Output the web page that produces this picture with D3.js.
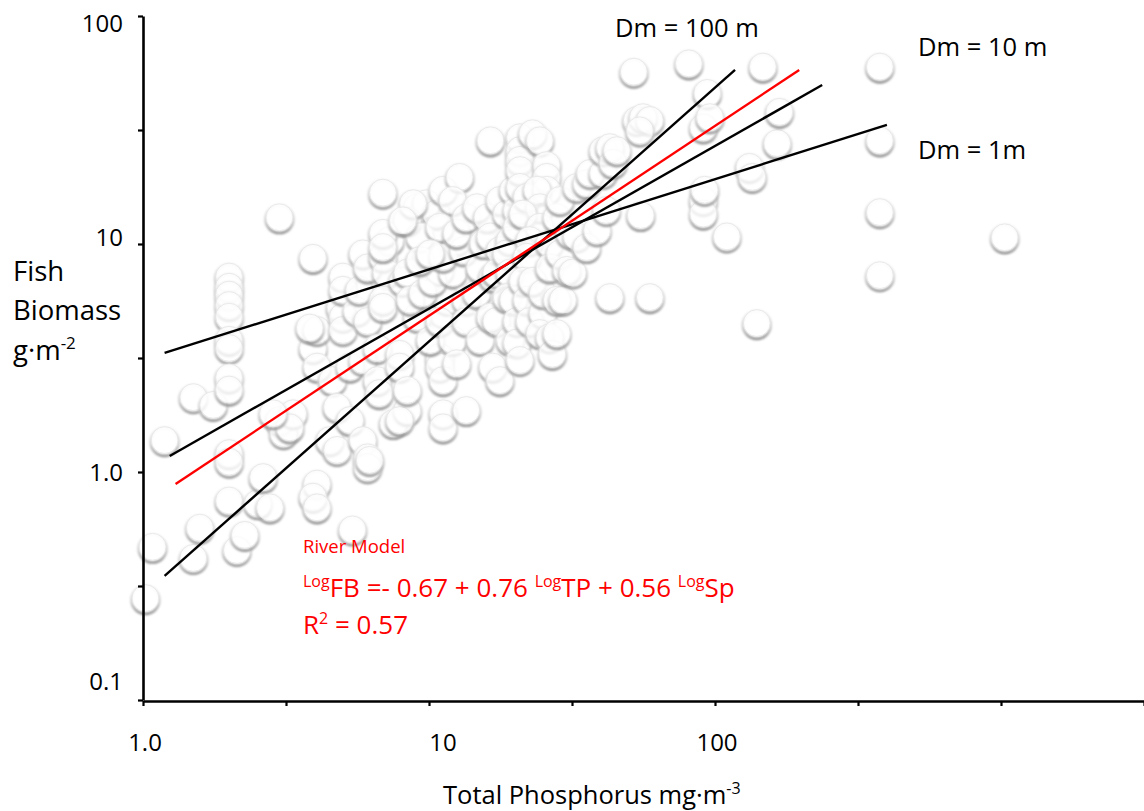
<!DOCTYPE html>
<html>
<head>
<meta charset="utf-8">
<script src="https://cdn.jsdelivr.net/npm/d3@7"></script>
<style>
  body { margin: 0; background: #fff; }
  svg { display: block; }
  text { font-family: "Open Sans", Lato, sans-serif; }
</style>
</head>
<body>
<svg id="chart" width="1144" height="811"></svg>
<script>
// Total phosphorus (mg·m-3) of each river site
const tpValues = [
  1.02, 1.08, 1.19, 1.5, 1.5, 1.58, 1.76, 2.0, 2.0, 2.0, 2.0, 2.0, 2.0, 2.0, 2.0, 2.0, 2.0, 2.0, 2.0,
  2.13, 2.27, 2.52, 2.63, 2.78, 3.0, 3.1, 3.0, 3.35, 3.26, 2.85, 3.93, 4.06, 3.93, 4.06, 3.93, 4.06,
  3.83, 4.06, 4.6, 4.77, 4.5, 4.77, 5.3, 5.3, 5.0, 4.9, 5.0, 5.0, 5.0, 5.4, 5.6, 5.7, 5.87, 6.1,
  5.87, 5.87, 6.1, 6.1, 6.1, 6.6, 6.6, 6.7, 6.2, 6.9, 7.3, 6.9, 7.1, 6.9, 6.9, 7.9, 7.9, 7.5, 8.4,
  7.9, 8.4, 8.1, 9.1, 9.8, 10.6, 11.2, 9.8, 10.9, 11.2, 10.9, 10.9, 11.2, 11.2, 11.2, 13.5, 11.6,
  8.4, 9.3, 8.8, 8.4, 9.1, 8.6, 9.5, 10.3, 9.3, 10.1, 10.9, 12.1, 12.5, 12.1, 12.5, 11.2, 13.2,
  12.8, 12.1, 10.9, 12.5, 13.5, 13.5, 13.5, 14.7, 14.7, 15.1, 15.5, 15.1, 16.4, 16.0, 16.4, 16.7,
  16.4, 16.7, 17.7, 17.7, 17.7, 17.2, 17.2, 18.7, 19.2, 18.7, 19.2, 18.7, 19.2, 19.7, 19.7, 20.3,
  20.3, 20.3, 20.3, 20.8, 20.8, 20.8, 20.8, 20.8, 20.8, 22.0, 23.0, 24.4, 25.8, 25.8, 25.8, 23.9,
  24.4, 21.3, 24.4, 22.5, 22.0, 21.3, 22.0, 22.5, 23.0, 25.0, 25.0, 24.4, 26.4, 27.0, 26.4, 26.4,
  28.0, 28.0, 28.0, 28.7, 28.7, 29.4, 30.3, 31.1, 31.8, 32.9, 32.9, 35.6, 35.6, 36.6, 38.7, 40.6,
  40.6, 42.9, 41.7, 44.0, 45.4, 42.9, 59.2, 52, 53.3, 56, 59.2, 54.6, 81, 94, 91, 96, 91, 91, 55,
  110, 132, 135, 165, 168, 147, 377, 377, 377, 377, 1030, 140, 92, 6.9, 6.9, 8.1, 10.1
];

// Fish biomass (g·m-2) of the same sites, in the same order
const fbValues = [
  0.28, 0.47, 1.38, 2.13, 0.42, 0.57, 1.97, 7.2, 6.5, 6.0, 5.4, 4.8, 3.8, 3.5, 2.6, 2.3, 1.21, 1.11, 0.75,
  0.455, 0.53, 0.73, 0.95, 0.70, 1.69, 1.48, 13.1, 1.81, 1.57, 1.81, 3.5, 4.2, 8.7, 0.89, 0.78, 0.70,
  4.3, 2.9, 2.53, 1.93, 1.38, 1.25, 1.69, 2.9, 7.2, 5.3, 4.8, 6.3, 4.2, 0.56, 5.1, 6.3, 9.1, 7.9,
  3.1, 1.38, 1.16, 1.05, 4.6, 3.5, 2.53, 2.22, 1.13, 16.8, 10.4, 8.8, 7.5, 5.7, 5.3, 3.3, 2.9, 1.64, 1.87,
  1.69, 2.29, 6.9, 14.5, 15.1, 13.6, 17.3, 8.8, 7.7, 5.0, 3.2, 2.9, 2.53, 1.81, 1.57, 1.87, 5.7,
  12.7, 10.8, 15.1, 7.5, 4.8, 5.7, 6.1, 6.9, 8.5, 3.8, 4.6, 3.8, 3.0, 7.5, 10.4, 8.8, 9.4,
  19.7, 15.6, 11.9, 11.2, 13.1, 5.7, 4.6, 6.1, 14.5, 7.9, 10.1, 3.8, 28.5, 13.1, 10.8, 7.2,
  4.8, 2.9, 2.53, 15.6, 9.4, 7.5, 4.6, 13.6, 10.4, 9.1, 7.5, 5.85, 3.8, 5.7, 17.3, 14.1,
  11.9, 4.6, 3.7, 3.1, 29.4, 25.8, 23.4, 21.1, 17.8, 16.1, 30.6, 28.5, 22.2, 19.7, 17.3, 17.3,
  14.5, 13.6, 11.9, 10.4, 8.8, 6.9, 5.7, 4.6, 6.9, 5.0, 6.1, 4.07, 3.9, 3.3, 10.1, 7.9,
  13.1, 5.7, 4.07, 15.6, 9.1, 5.7, 7.7, 11.2, 7.5, 17.8, 10.8, 9.7, 18.5, 20.5, 11.5, 20.5,
  25.8, 26.6, 14.1, 22.7, 25.8, 5.85, 5.85, 57, 35, 36, 35, 31.5, 62, 46, 32.5, 36, 15.6, 13.6, 13.4,
  10.8, 21.8, 19.7, 27.7, 38, 60, 60, 28.5, 13.8, 7.3, 10.7, 4.5, 17.3, 11.2, 9.7, 12.7, 9.1
];

// Fitted lines: endpoints in (TP, FB)
const lineNames = ["Dm = 1m", "Dm = 10 m", "Dm = 100 m", "River Model"];
const lineTP = [[1.19, 399], [1.24, 237], [1.19, 117.5], [1.30, 197]];
const lineFB = [[3.33, 33.3], [1.175, 49.8], [0.35, 58], [0.886, 58]];
const lineColors = ["#000", "#000", "#000", "#ff0000"];

// Axis ticks
const xTickValues = [1, Math.sqrt(10), 10, Math.sqrt(1000), 100, Math.sqrt(1e5), 1000, Math.sqrt(1e7)];
const yTickValues = [0.1, Math.sqrt(0.1), 1, Math.sqrt(10), 10, Math.sqrt(1000), 100];
const xLabelValues = [1, 10, 100];
const xLabelTexts = ["1.0", "10", "100"];
const yLabelValues = [100, 10, 1, 0.1];
const yLabelTexts = ["100", "10", "1.0", "0.1"];

const svg = d3.select("#chart");

const x = d3.scaleLog().domain([1, Math.sqrt(1e7)]).range([143, 1144]);
const y = d3.scaleLog().domain([0.1, 100]).range([700, 16]);

// Bubble look: see-through white disc, soft grey rim that darkens towards the bottom
const defs = svg.append("defs");
const rim = defs.append("linearGradient").attr("id", "rimGrad")
  .attr("x1", 0).attr("y1", 0).attr("x2", 0).attr("y2", 1);
rim.append("stop").attr("offset", "0%").attr("stop-color", "#efefef");
rim.append("stop").attr("offset", "55%").attr("stop-color", "#d2d2d2");
rim.append("stop").attr("offset", "100%").attr("stop-color", "#939393");
defs.append("filter").attr("id", "soft").attr("x", "-30%").attr("y", "-30%").attr("width", "160%").attr("height", "160%")
  .append("feGaussianBlur").attr("stdDeviation", 1.3);
defs.append("filter").attr("id", "soft2").attr("x", "-30%").attr("y", "-30%").attr("width", "160%").attr("height", "160%")
  .append("feGaussianBlur").attr("stdDeviation", 0.7);

const points = tpValues.map((tp, i) => ({ tp, fb: fbValues[i] }));
const r = 14;

const bubbles = svg.append("g").attr("class", "bubbles")
  .selectAll("g").data(points).join("g")
  .attr("transform", d => `translate(${x(d.tp)},${y(d.fb)})`);
bubbles.append("circle")
  .attr("cy", 1.8).attr("r", r)
  .attr("fill", "none").attr("stroke", "url(#rimGrad)").attr("stroke-width", 2.6)
  .attr("filter", "url(#soft)");
bubbles.append("circle")
  .attr("r", r - 0.6)
  .attr("fill", "#fff").attr("fill-opacity", 0.8)
  .attr("stroke", "#e4e4e4").attr("stroke-width", 0.8)
  .attr("filter", "url(#soft2)");

// Axes
const xAxis = d3.axisBottom(x).tickValues(xTickValues).tickFormat("").tickSizeInner(5).tickSizeOuter(0);
const yAxis = d3.axisLeft(y).tickValues(yTickValues).tickFormat("").tickSizeInner(5).tickSizeOuter(0);
const gx = svg.append("g").attr("transform", `translate(0,${y(0.1) + 1})`).call(xAxis);
const gy = svg.append("g").attr("transform", `translate(${x(1)},0)`).call(yAxis);
[gx, gy].forEach(g => {
  g.select(".domain").attr("stroke", "#000").attr("stroke-width", 2.6);
  g.selectAll(".tick line").attr("stroke", "#000").attr("stroke-width", 2.2);
});

// Tick labels
const xLabelShift = [2, 14, 2];
svg.append("g").selectAll("text").data(xLabelValues).join("text")
  .attr("x", (d, i) => x(d) + xLabelShift[i]).attr("y", 751)
  .attr("text-anchor", "middle").attr("font-size", 24).attr("fill", "#000")
  .text((d, i) => xLabelTexts[i]);
const yLabelShift = [16, 2, 9, -10];
svg.append("g").selectAll("text").data(yLabelValues).join("text")
  .attr("x", 123).attr("y", (d, i) => y(d) + yLabelShift[i])
  .attr("text-anchor", "end").attr("font-size", 24).attr("fill", "#000")
  .text((d, i) => yLabelTexts[i]);

// Fitted lines
const lineGen = d3.line().x(d => x(d[0])).y(d => y(d[1]));
svg.append("g").selectAll("path").data(lineNames).join("path")
  .attr("d", (n, i) => lineGen(lineTP[i].map((tp, j) => [tp, lineFB[i][j]])))
  .attr("fill", "none")
  .attr("stroke", (n, i) => lineColors[i])
  .attr("stroke-width", 2.4);

// Line labels
const lineLabels = [
  { text: "Dm = 100 m", x: 615, y: 37 },
  { text: "Dm = 10 m", x: 918, y: 56 },
  { text: "Dm = 1m", x: 918, y: 159 }
];
svg.append("g").selectAll("text").data(lineLabels).join("text")
  .attr("x", d => d.x).attr("y", d => d.y)
  .attr("font-size", 25.5).attr("fill", "#000")
  .text(d => d.text);

// Axis titles
const yTitle = svg.append("text").attr("font-size", 27.5).attr("fill", "#000");
yTitle.append("tspan").attr("x", 13).attr("y", 281).text("Fish");
yTitle.append("tspan").attr("x", 13).attr("y", 320).text("Biomass");
yTitle.append("tspan").attr("x", 13).attr("y", 360).text("g·m");
yTitle.append("tspan").attr("dy", -11).attr("font-size", 17).text("-2");

const xTitle = svg.append("text").attr("x", 443).attr("y", 804).attr("font-size", 25.5).attr("fill", "#000");
xTitle.append("tspan").text("Total Phosphorus mg·m");
xTitle.append("tspan").attr("dy", -10).attr("font-size", 16).text("-3");

// Model annotation
const red = "#ff0000";
svg.append("text").attr("x", 303).attr("y", 553).attr("font-size", 18.5).attr("fill", red).text("River Model");
const eq = svg.append("text").attr("x", 303).attr("y", 597).attr("font-size", 26).attr("fill", red);
const eqParts = [
  ["Log", true], ["FB =- 0.67 + 0.76 ", false], ["Log", true], ["TP + 0.56 ", false], ["Log", true], ["Sp", false]
];
eqParts.forEach(([t, sup]) => {
  eq.append("tspan").attr("font-size", sup ? 16 : 26).attr("dy", sup ? -10 : 10).text(t);
});
eq.select("tspan").attr("dy", -10);
const r2 = svg.append("text").attr("x", 303).attr("y", 634).attr("font-size", 26).attr("fill", red);
r2.append("tspan").text("R");
r2.append("tspan").attr("font-size", 16).attr("dy", -10).text("2");
r2.append("tspan").attr("dy", 10).text(" = 0.57");
</script>
</body>
</html>
